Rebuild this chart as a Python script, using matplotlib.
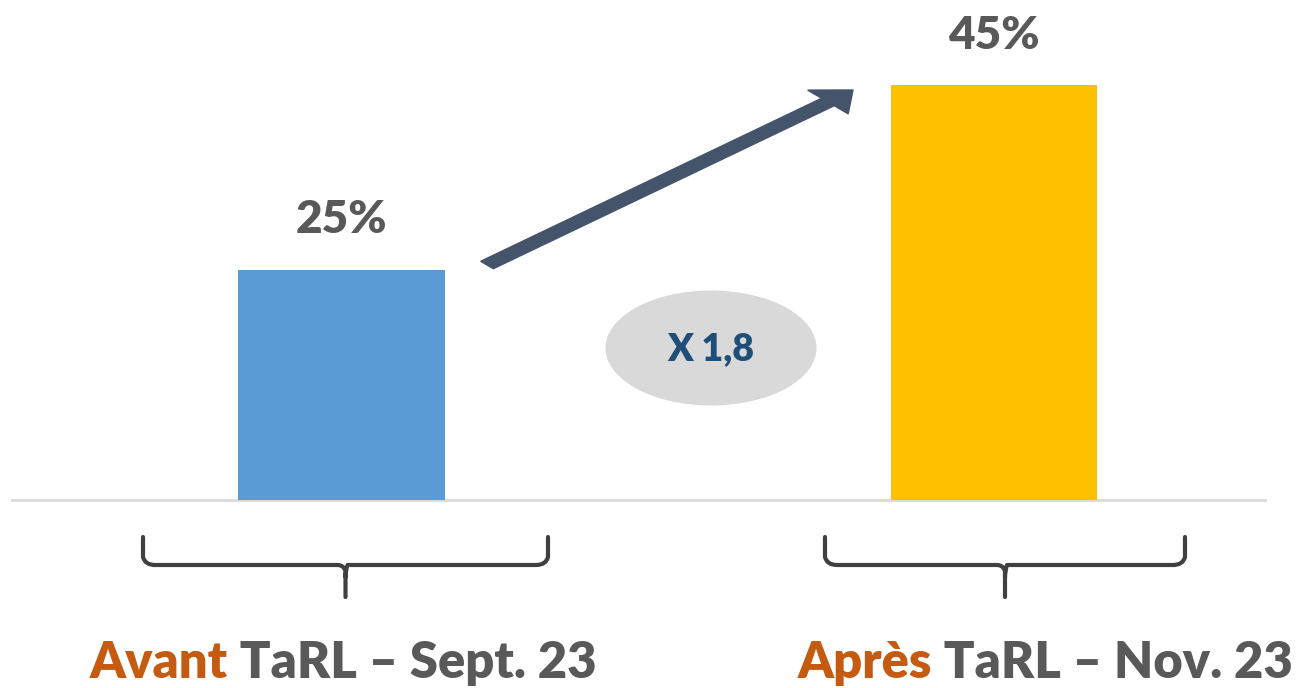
import matplotlib.pyplot as plt
from matplotlib.patches import Ellipse, FancyArrow
from matplotlib.path import Path
from matplotlib.patches import PathPatch

plt.rcParams.update({
    'font.family': ['Lato', 'DejaVu Sans'],
    'font.weight': 'bold',
})

# Données
periodes = ['Avant', 'Après']
suffixes = [' TaRL – Sept. 23', ' TaRL – Nov. 23']
valeurs = [25, 45]
couleurs = ['#5B9BD5', '#FFC000']
facteur = 'X 1,8'

W, H = 1300, 688
BASE = 500      # ligne de base (px)
ECH = 9.22      # px par point de %
fig = plt.figure(figsize=(W / 100, H / 100), dpi=100)
ax = fig.add_axes([0, 0, 1, 1])

# échelle : 652.5 px entre les barres
ax.set_xlim(-341.5 / 652.5, (W - 341.5) / 652.5)
ax.set_ylim(-(H - BASE) / ECH, BASE / ECH)
ax.axis('off')

x = range(len(valeurs))
ax.bar(x, valeurs, width=0.317, color=couleurs, zorder=2)
for i, v in zip(x, valeurs):
    ax.text(i, v + 5.4, f"{v}%", ha='center', va='center',
            fontsize=33, color='#595959', fontweight='heavy')

# ligne de base
ax.axhline(0, xmin=12 / W, xmax=1265 / W, color='#D9D9D9', lw=2, zorder=1)


def fx(p):
    return p / W


def fy(p):
    return 1 - p / H


# flèche
fig.add_artist(FancyArrow(fx(487), fy(265), fx(853) - fx(487), fy(90) - fy(265),
                          width=10 / H, head_width=32 / H, head_length=0.026,
                          length_includes_head=True, color='#44546A',
                          transform=fig.transFigure))

# ellipse + facteur
fig.add_artist(Ellipse((fx(711), fy(348)), 211 / W, 115 / H, color='#D9D9D9',
                       transform=fig.transFigure, lw=0))
fig.text(fx(711), fy(349), facteur, ha='center', va='center',
         fontsize=27, color='#1F4E79', fontweight='heavy')

# accolades sous les barres
accolades = [(143, 548), (825, 1185)]


def accolade(x0, x1, top=537, mid=565, tip=597):
    c = (x0 + x1) / 2
    pts = [(x0, top), (x0, mid - 8), (x0 + 2, mid), (x0 + 12, mid),
           (c - 8, mid), (c - 2, mid), (c, mid + 6), (c, mid + 12),
           (c, tip), (c, mid + 12), (c, mid + 6), (c + 2, mid), (c + 8, mid),
           (x1 - 12, mid), (x1 - 2, mid), (x1, mid - 8), (x1, top)]
    codes = [Path.MOVETO, Path.LINETO, Path.CURVE3, Path.CURVE3,
             Path.LINETO, Path.CURVE3, Path.CURVE3, Path.LINETO,
             Path.LINETO, Path.MOVETO, Path.CURVE3, Path.CURVE3, Path.LINETO,
             Path.LINETO, Path.CURVE3, Path.CURVE3, Path.LINETO]
    verts = [(fx(a), fy(b)) for a, b in pts]
    fig.add_artist(PathPatch(Path(verts, codes), fill=False, lw=3,
                             edgecolor='#404040', transform=fig.transFigure,
                             capstyle='round', joinstyle='round'))


for a, b in accolades:
    accolade(a, b)

# étiquettes du bas, centrées sur les positions du modèle
centres = [343.5, 1045]
rend = fig.canvas.get_renderer()
for c, p, s in zip(centres, periodes, suffixes):
    t1 = fig.text(0, fy(678), p, ha='left', va='baseline',
                  fontsize=36.5, color='#C55A11', fontweight='heavy')
    t2 = ax.annotate(s, xy=(1, 0), xycoords=t1, ha='left', va='bottom',
                     fontsize=36.5, color='#595959', fontweight='heavy')
    larg = t1.get_window_extent(rend).width + t2.get_window_extent(rend).width
    t1.set_x(fx(c - larg / 2))

fig.savefig('out.png', dpi=100)
